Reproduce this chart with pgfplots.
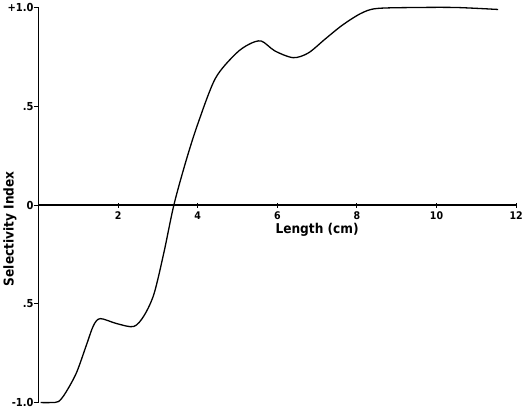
\documentclass[border=0pt]{standalone}
\usepackage{pgfplots}
\pgfplotsset{compat=1.18}
\usepackage{fontspec}
\setmainfont{DejaVu Sans Condensed}
\begin{document}
\begin{tikzpicture}
\begin{axis}[
    scale only axis,
    width=475bp, height=393bp,
    xmin=0, xmax=12, ymin=-1, ymax=1,
    axis x line=middle, axis y line=left,
    axis line style={-, line width=1.3pt},
    xtick={2,4,...,12},
    xticklabels={\textbf{2},\textbf{4},\textbf{6},\textbf{8},\textbf{10},\textbf{12}},
    ytick={-1,-0.5,0,0.5,1},
    yticklabels={\textbf{-1.0},\textbf{.5},\textbf{0},\textbf{.5},\textbf{+1.0}},
    x tick label style={font=\fontsize{10.5}{12}\selectfont, yshift=-1pt},
    y tick label style={font=\fontsize{11}{12}\selectfont, xshift=1pt},
    tick align=center,
    xtick style={black, line width=0.9pt},
    ytick style={black, line width=0.9pt, xshift=-2.5pt},
    major tick length=5pt,
    clip=false,
]
\addplot[black, line width=1.3pt, smooth, tension=0.5] coordinates {
(0.05,-1.0) (0.3,-1.0) (0.5,-0.995) (0.68,-0.95) (0.95,-0.85) (1.2,-0.71)
(1.38,-0.61) (1.55,-0.575) (1.96,-0.60) (2.39,-0.615) (2.65,-0.56) (2.9,-0.45)
(3.15,-0.24) (3.4,0.0) (3.7,0.22) (4.0,0.41) (4.44,0.64)
(4.95,0.765) (5.3,0.815) (5.6,0.83) (5.94,0.78) (6.4,0.746) (6.78,0.77) (7.2,0.84)
(7.63,0.91) (8.1,0.97) (8.5,0.995) (9.5,1.0) (10.5,1.0) (11.55,0.99)
};
\node[font=\fontsize{13.5}{16}\selectfont\bfseries] at (axis cs:7.0,-0.125) {Length (cm)};
\node[font=\fontsize{13.5}{15}\selectfont\bfseries, rotate=90] at (axis cs:-0.72,-0.12) {Selectivity Index};
\end{axis}
\end{tikzpicture}
\end{document}
